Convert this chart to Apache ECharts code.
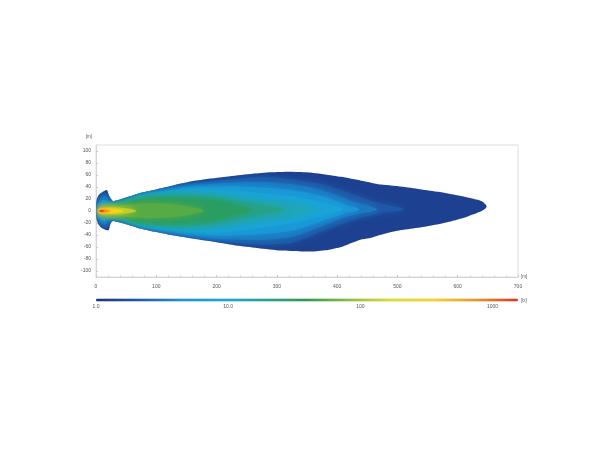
<!DOCTYPE html>
<html><head><meta charset="utf-8">
<script src="https://cdn.jsdelivr.net/npm/echarts@6/dist/echarts.min.js"></script>
<style>html,body{margin:0;padding:0;background:#fff}#c{width:610px;height:450px}</style>
</head><body><div id="c"></div>
<script>
// ---- tick labels ----
const xTicks = [0, 100, 200, 300, 400, 500, 600, 700];
const yTicks = [-100, -80, -60, -40, -20, 0, 20, 40, 60, 80, 100];
const colorbarTicks = [1, 10, 100, 1000];
const colorbarLabels = ['1.0', '10.0', '100', '1000'];
const colorbarMax = 1560;

// ---- isolux levels (lx) and the fill value used inside each contour ----
const isoLevels = [1, 1.6, 2.5, 4, 6, 10, 16, 25, 40, 80, 200, 500, 1000];
const isoFill   = [1.3, 2.0, 3.1, 4.9, 7.7, 12.5, 20, 31, 55, 125, 310, 700, 1300];

// ---- contour outlines, [x m, y m] ----
const iso1 = [[0,0],[0.5,12],[1.5,20],[4,26],[8,30],[13,33],[17,35],[19,34],[20,30],[22,25],[25,20],[28,16.5],[35,18],[45,21],[55,24],[73,30],[100,36],[130,43],[157,49],[190,54],[223,58],[260,62],[290,64.5],[320,65.5],[350,64.5],[380,61],[407,57],[440,50.5],[473,44],[512,40],[540,36],[568,32],[595,27],[615,23],[632,19],[642,15],[647,10],[648,7],[646,4],[640,0],[625,-6],[612,-11],[590,-17],[568,-22],[540,-27],[512,-31],[490,-35],[471,-40],[455,-45],[440,-47.5],[425,-53],[407,-60],[385,-65],[360,-67.5],[340,-67.5],[307,-66],[270,-62],[240,-58.5],[200,-52],[157,-45.5],[130,-41],[100,-35],[73,-29],[50,-22],[35,-18],[28,-16.5],[25,-19],[23,-24],[22,-29],[21,-32],[18,-32],[13,-30],[8,-27],[4,-22],[1.5,-16],[0.5,-8]];
const iso1_6 = [[1,0],[2,12],[5,22],[9,27],[14,30],[17,30],[19,27],[21,22],[26,15],[40,18],[73,28],[120,38],[157,45],[200,50],[240,54],[280,57],[328,52],[377,44],[420,30],[460,16],[495,8],[510,4],[510,2],[495,-1],[460,-6],[420,-18],[377,-33],[328,-52],[280,-56],[240,-54],[200,-50],[157,-44],[120,-37],[73,-27],[40,-17],[26,-14],[22,-20],[20,-26],[17,-28],[12,-27],[7,-23],[3,-15],[1,-6]];
const iso2_5 = [[2,0],[3,10],[6,18],[10,23],[14,25],[17,24],[20,19],[24,13],[40,16],[73,27],[120,36],[157,42],[200,46],[240,48],[280,48],[328,44],[377,34],[420,18],[450,9],[465,4],[465,1],[450,-2],[420,-8],[377,-24],[328,-42],[280,-48],[240,-48],[200,-46],[157,-41],[120,-35],[73,-26],[40,-15],[24,-12],[20,-17],[16,-22],[11,-22],[6,-17],[3,-9]];
const iso4 = [[3,0],[4,8],[7,14],[11,18],[15,18],[18,14],[22,11],[40,14],[73,26],[120,34],[157,39],[200,41],[240,41],[280,39],[328,34],[377,24],[415,10],[435,4],[435,1],[415,-3],[377,-16],[328,-32],[280,-38],[240,-40],[200,-41],[157,-38],[120,-33],[73,-25],[40,-13],[22,-10],[18,-13],[14,-17],[9,-16],[5,-10],[4,-5]];
const iso6 = [[4,0],[6,6],[10,10],[20,10],[40,13],[73,25],[120,32],[157,36],[200,36],[240,33],[280,29],[328,24],[377,14],[400,8],[410,4],[410,2],[400,-1],[377,-8],[328,-20],[280,-27],[240,-32],[200,-36],[157,-35],[120,-31],[73,-24],[40,-12],[20,-9],[10,-9],[6,-5]];
const iso10 = [[5,0],[8,5],[20,8],[40,12],[73,23],[120,28],[157,30],[200,28],[240,23],[280,18],[328,12],[355,7],[365,4],[365,2],[355,0],[328,-9],[280,-15],[240,-22],[200,-27],[157,-29],[120,-27],[73,-22],[40,-11],[20,-7],[8,-4]];
const iso16 = [[6,0],[20,7],[40,11],[73,21],[120,25],[157,25],[200,22],[240,15],[280,9],[305,5],[315,3],[315,2],[305,0],[280,-5],[240,-12],[200,-20],[157,-24],[120,-24],[73,-20],[40,-10],[20,-6]];
const iso25 = [[7,0],[20,6],[40,10],[73,19],[120,21],[157,20],[200,17],[230,10],[250,5],[258,2],[258,0],[250,-2],[230,-6],[200,-15],[157,-19],[120,-20],[73,-18],[40,-9],[20,-5.5]];
const iso40 = [[8,0],[20,5.5],[50,10],[80,13],[120,12],[150,8],[170,4],[178,1],[178,-1],[170,-3],[150,-7],[120,-11],[80,-12],[50,-9],[20,-5]];
const iso80 = [[3,0],[6,5],[20,6],[40,5.5],[58,3.5],[66,1],[66,-1],[58,-3],[40,-5],[20,-5.5],[6,-5]];
const iso200 = [[3,0],[5,3.5],[15,4.2],[30,3.5],[42,1.8],[46,0],[42,-1.8],[30,-3.5],[15,-4.2],[5,-3.5]];
const iso500 = [[4,0],[6,2.2],[12,2.6],[20,1.8],[24,0],[20,-1.8],[12,-2.6],[6,-2.2]];
const iso1000 = [[5,0],[7,1.4],[11,1.5],[14,0],[11,-1.5],[7,-1.4]];

const isoPolys = [iso1, iso1_6, iso2_5, iso4, iso6, iso10, iso16, iso25, iso40, iso80, iso200, iso500, iso1000];

const chart = echarts.init(document.getElementById('c'), null, {renderer: 'canvas'});
const labelFont = {fontSize: 5, color: '#555', fontFamily: 'Liberation Sans, Arial, sans-serif'};
const outerSmooth = 0.15, innerSmooth = 0.3;

chart.setOption({
  animation: false,
  backgroundColor: '#fff',
  grid: [
    {left: 96, right: 92, top: 145, height: 132, show: true, borderColor: '#dcdcdc', borderWidth: 1, backgroundColor: 'transparent'},
    {left: 96, right: 92, top: 299, height: 2, show: false}
  ],
  xAxis: [
    {gridIndex: 0, type: 'value', min: 0, max: 700, interval: 100,
     name: '[m]', nameLocation: 'end', nameGap: 3,
     nameTextStyle: Object.assign({}, labelFont, {fontSize: 4.5, verticalAlign: 'middle'}),
     axisLine: {show: true, onZero: false, lineStyle: {color: '#d6d6d6', width: 1}},
     axisTick: {show: true, length: 2, inside: true, lineStyle: {color: '#c8c8c8'}},
     minorTick: {show: true, splitNumber: 5, length: 1.5, lineStyle: {color: '#d0d0d0'}},
     splitLine: {show: false},
     axisLabel: Object.assign({}, labelFont, {margin: 7, formatter: v => xTicks.includes(v) ? String(v) : ''})},
    {gridIndex: 1, type: 'log', logBase: 10, min: 1, max: colorbarMax,
     name: '[lx]', nameLocation: 'end', nameGap: 3,
     nameTextStyle: Object.assign({}, labelFont, {fontSize: 4.5, verticalAlign: 'middle'}),
     axisLine: {show: false}, axisTick: {show: false}, splitLine: {show: false},
     axisLabel: Object.assign({}, labelFont, {margin: 3, customValues: colorbarTicks,
       formatter: v => { const i = colorbarTicks.findIndex(t => Math.abs(t - v) / t < 1e-6); return i >= 0 ? colorbarLabels[i] : ''; }})}
  ],
  yAxis: [
    {gridIndex: 0, type: 'value', min: -110, max: 110,
     name: '[m]', nameLocation: 'end', nameGap: 6,
     nameTextStyle: Object.assign({}, labelFont, {fontSize: 4.5, align: 'right', padding: [0, 4, 0, 0]}),
     axisLine: {show: true, onZero: false, lineStyle: {color: '#d6d6d6', width: 1}},
     axisTick: {show: true, length: 2, inside: true, customValues: yTicks, lineStyle: {color: '#c8c8c8'}},
     splitLine: {show: false},
     axisLabel: Object.assign({}, labelFont, {margin: 5, customValues: yTicks})},
    {gridIndex: 1, type: 'value', show: false, min: 0, max: 1}
  ],
  visualMap: {
    type: 'continuous', seriesIndex: 0, dimension: 1,
    min: 0, max: Math.log10(colorbarMax),
    orient: 'horizontal', left: 96, top: 298.5, padding: 0,
    itemWidth: 3, itemHeight: 422, calculable: false, text: null, showLabel: false,
    inRange: {color: ['#1c3382', '#1f5aa8', '#1a92d6', '#1aa8d8', '#26a38e', '#2c9b4c', '#8bbf3a', '#e0dc22', '#f9d41a', '#f29225', '#e2311f']}
  },
  series: [{
    type: 'custom', xAxisIndex: 0, yAxisIndex: 0,
    clip: true,
    data: isoLevels.map((lv, i) => [i, Math.log10(isoFill[i])]),
    renderItem: (params, api) => {
      const i = api.value(0);
      const color = api.visual('color');
      const pts = isoPolys[i].map(p => api.coord(p));
      const el = {
        type: 'polygon',
        shape: {points: pts, smooth: i === 0 ? outerSmooth : innerSmooth},
        style: {fill: color}
      };
      if (i > 0) {
        el.style.shadowBlur = 7;
        el.style.shadowColor = color;
        el.clipPath = {type: 'polygon', shape: {points: iso1.map(p => api.coord(p)), smooth: outerSmooth}};
      }
      return el;
    }
  }]
});
</script></body></html>
